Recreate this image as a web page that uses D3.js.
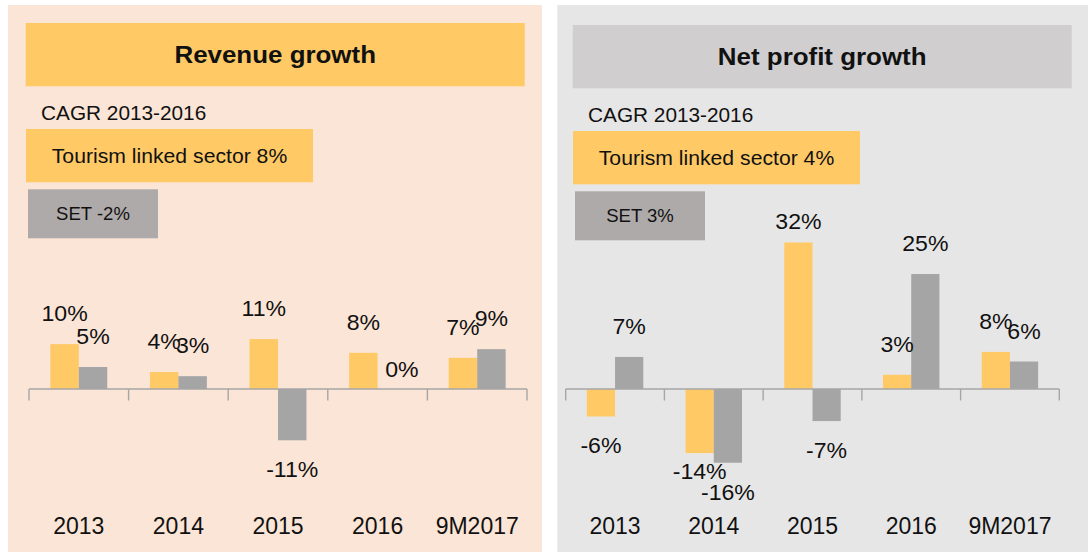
<!DOCTYPE html>
<html>
<head>
<meta charset="utf-8">
<script src="https://cdn.jsdelivr.net/npm/d3@7"></script>
<style>
  body { margin: 0; background: #fff; }
  svg { display: block; font-family: "Liberation Sans", Arial, sans-serif; }
  text { fill: #111; }
</style>
</head>
<body>
<div id="vis"></div>
<script>
var categories = ["2013", "2014", "2015", "2016", "9M2017"];
var series = ["Tourism linked sector", "SET"];
var revenueTourism = [9.8, 3.7, 10.9, 7.9, 6.8];
var revenueSET = [4.8, 2.8, -11.2, 0, 8.7];
var profitTourism = [-6.0, -14.0, 32.0, 3.1, 8.1];
var profitSET = [7.0, -16.1, -7.0, 25.1, 6.0];
var panelTitles = ["Revenue growth", "Net profit growth"];
var cagrTitle = "CAGR 2013-2016";
var cagrTourism = ["Tourism linked sector 8%", "Tourism linked sector 4%"];
var cagrSET = ["SET -2%", "SET 3%"];

var colors = ["#FFC966", "#A5A5A5"];

// panel layout
var panels = [
  { x: 8, w: 534, fill: "#FBE5D6", head: "#FFC966", hx: 25.7, hy: 23, axis: [29, 527],
    data: [revenueTourism, revenueSET] },
  { x: 557.3, w: 531, fill: "#E7E6E6", head: "#D0CECE", hx: 572.7, hy: 25, axis: [565.7, 1059.3],
    data: [profitTourism, profitSET] }
];

var svg = d3.select('#vis').append('svg').attr('width', 1088).attr('height', 552);

var y0 = 389, k = 4.58;
var y = d3.scaleLinear().domain([-20, 35]).range([y0 + 20 * k, y0 - 35 * k]);
var plotTop = y.range()[1];

function txt(g, x, yy, s, size, sx, weight) {
  return g.append('text')
    .attr('transform', 'translate(' + x + ',' + yy + ') scale(' + sx + ',1)')
    .attr('text-anchor', 'middle')
    .style('font-size', size + 'px')
    .style('font-weight', weight || 'normal')
    .text(s);
}

panels.forEach(function(p, pi) {
  var g = svg.append('g');
  g.append('rect').attr('x', p.x).attr('y', 5).attr('width', p.w).attr('height', 547).attr('fill', p.fill);

  // header
  g.append('rect').attr('x', p.hx).attr('y', p.hy).attr('width', 499).attr('height', 63.3).attr('fill', p.head);
  txt(g, p.hx + 249.5, p.hy + 39.5, panelTitles[pi], 24, 1.08, 'bold');

  // CAGR boxes
  txt(g, p.hx + 15.3, p.hy + 97, cagrTitle, 20, 1.04).attr('text-anchor', 'start');
  g.append('rect').attr('x', p.hx + 0.3).attr('y', p.hy + 106).attr('width', 287).attr('height', 53.3).attr('fill', colors[0]);
  txt(g, p.hx + 143.8, p.hy + 140.3, cagrTourism[pi], 20, 1.06);
  g.append('rect').attr('x', p.hx + 2.3).attr('y', p.hy + 166.3).attr('width', 130).attr('height', 49).attr('fill', '#AEAAAA');
  txt(g, p.hx + 67.3, p.hy + 197, cagrSET[pi], 18, 1.03);

  // bars
  var x0 = d3.scaleBand().domain(categories).range(p.axis).paddingInner(0).paddingOuter(0);
  var x1 = d3.scaleBand().domain(series).range([0, x0.bandwidth()]).paddingInner(0).paddingOuter(0.75);

  var rows = categories.map(function(c, i) {
    return series.map(function(s, si) { return { cat: c, s: s, si: si, v: p.data[si][i] }; });
  });

  var grp = g.selectAll('g.cat').data(rows).enter().append('g').attr('class', 'cat')
    .attr('transform', function(d) { return 'translate(' + x0(d[0].cat) + ',0)'; });

  grp.selectAll('rect').data(function(d) { return d; }).enter().append('rect')
    .attr('x', function(d) { return x1(d.s); })
    .attr('width', x1.bandwidth())
    .attr('y', function(d) { return y(Math.max(0, d.v)); })
    .attr('height', function(d) { return Math.abs(y(d.v) - y(0)); })
    .attr('fill', function(d) { return colors[d.si]; });

  // axis line with ticks at category boundaries
  var ax = g.append('g').attr('transform', 'translate(0,' + y0 + ')');
  ax.append('line').attr('x1', p.axis[0]).attr('x2', p.axis[1]).attr('y1', 0).attr('y2', 0)
    .attr('stroke', '#A6A6A6').attr('stroke-width', 1.6);
  var bounds = categories.map(function(c) { return x0(c); }).concat([p.axis[1]]);
  ax.selectAll('line.tick').data(bounds).enter().append('line').attr('class', 'tick')
    .attr('x1', function(d) { return d; }).attr('x2', function(d) { return d; })
    .attr('y1', 0).attr('y2', 11.5).attr('stroke', '#A6A6A6').attr('stroke-width', 1.4);

  categories.forEach(function(c) {
    txt(g, x0(c) + x0.bandwidth() / 2, 534, c, 23, 1);
  });

  // value labels
  rows.forEach(function(r) {
    var labs = r.map(function(d) {
      var l = { x: x0(d.cat) + x1(d.s) + x1.bandwidth() / 2, y: d.v < 0 ? y(d.v) + 37 : y(d.v) - 23, v: d.v };
      if (d.v === 0) { l.x += 10; l.y = y(0) - 12; }
      l.y = Math.max(l.y, plotTop);
      return l;
    });
    if (labs[0].v < 0 && labs[1].v < 0) {
      var lo = labs[0].y > labs[1].y ? labs[0] : labs[1];
      var hi = lo === labs[0] ? labs[1] : labs[0];
      if (lo.y - hi.y < 21) hi.y = lo.y - 21;
    }
    labs.forEach(function(l) {
      txt(g, l.x, l.y, Math.round(l.v) + '%', 22, 1.05);
    });
  });
});
</script>
</body>
</html>
